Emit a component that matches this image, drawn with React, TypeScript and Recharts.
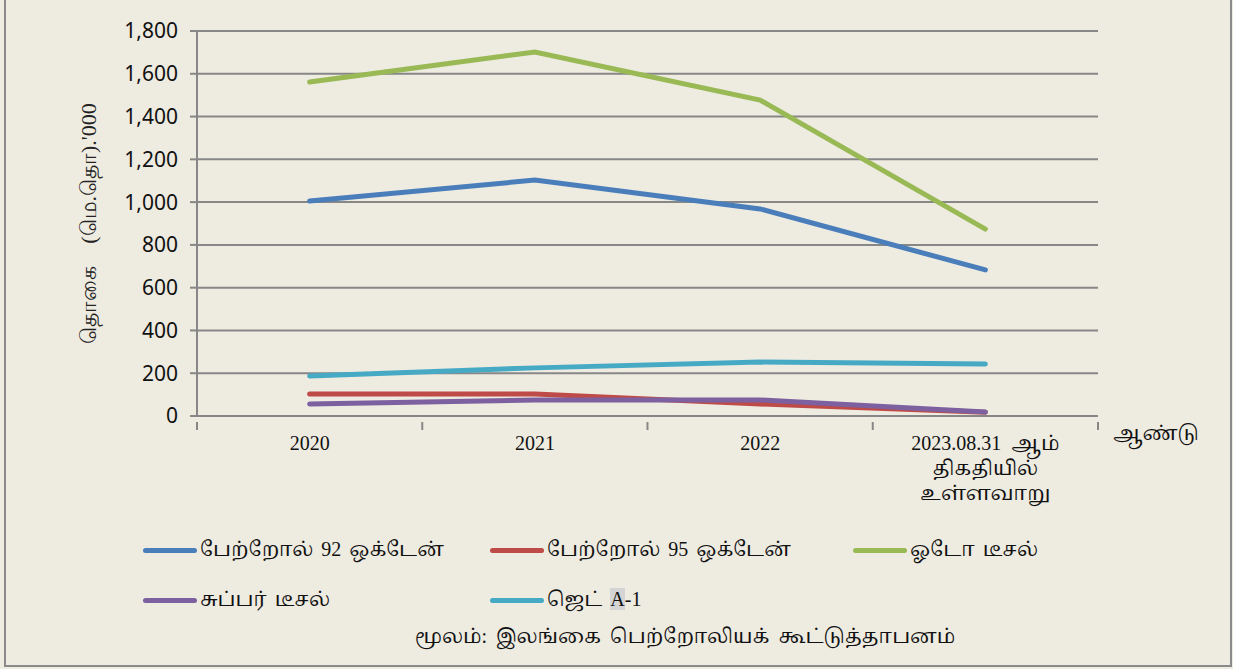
import { LineChart, Line, XAxis, YAxis, CartesianGrid, Label } from "recharts";

const years = ["2020", "2021", "2022", "2023.08.31"];
const petrol92 = [1005, 1103, 968, 683];
const petrol95 = [103, 103, 56, 18];
const autoDiesel = [1562, 1702, 1477, 874];
const superDiesel = [56, 75, 75, 19];
const jetA1 = [187, 225, 252, 243];
const yTicks = [0, 200, 400, 600, 800, 1000, 1200, 1400, 1600, 1800];

const series = [
  { key: "p92", name: "பேற்றோல் 92 ஒக்டேன்", color: "#4A7EBB", values: petrol92 },
  { key: "p95", name: "பேற்றோல் 95 ஒக்டேன்", color: "#BE4B48", values: petrol95 },
  { key: "auto", name: "ஓடோ டீசல்", color: "#98B954", values: autoDiesel },
  { key: "super", name: "சுப்பர் டீசல்", color: "#7D60A0", values: superDiesel },
  { key: "jet", name: "ஜெட் A-1", color: "#46AAC5", values: jetA1 },
];

const data = years.map((y, i) => {
  const row: Record<string, string | number> = { year: y };
  series.forEach((s) => (row[s.key] = s.values[i]));
  return row;
});

const serif = "'Liberation Serif', 'Noto Serif Tamil', 'Noto Sans Tamil', serif";
const gridColor = "#878787";

const XTick = (props: any) => {
  const { x, y, payload, index } = props;
  const off = payload.offset || 0;
  const last = index === years.length - 1;
  const lines = last ? ["2023.08.31  ஆம்", "திகதியில்", "உள்ளவாறு"] : [payload.value];
  return (
    <g>
      <line x1={x - off} x2={x - off} y1={y - 2} y2={y + 6} stroke={gridColor} strokeWidth={2} />
      {last && <line x1={x + off} x2={x + off} y1={y - 2} y2={y + 6} stroke={gridColor} strokeWidth={2} />}
      <text x={x} y={y + 26} textAnchor="middle" fontFamily={serif} fontSize={20} fill="#111" style={{ whiteSpace: "pre" }}>
        {lines.map((l: string, i: number) => (
          <tspan key={i} x={x} dy={i === 0 ? 0 : 25}>
            {l}
          </tspan>
        ))}
      </text>
    </g>
  );
};

const LegendBox = () => {
  const Item = ({ s }: { s: (typeof series)[number] }) => (
    <div style={{ display: "flex", alignItems: "center", height: 24 }}>
      <div style={{ width: 54, height: 5, borderRadius: 3, background: s.color, marginRight: 3 }} />
      <span style={{ wordSpacing: 3 }}>
        {s.key === "jet" ? (
          <>
            ஜெட் <span style={{ background: "#d4d4d4" }}>A</span>-1
          </>
        ) : (
          s.name
        )}
      </span>
    </div>
  );
  return (
    <div
      style={{
        position: "absolute",
        left: 0,
        top: 538,
        width: 1233,
        fontFamily: serif,
        fontSize: 20,
        color: "#111",
      }}
    >
      <div style={{ display: "grid", gridTemplateColumns: "347px 363px 300px", rowGap: 26, marginLeft: 143 }}>
        {series.map((s) => (
          <Item key={s.key} s={s} />
        ))}
      </div>
      <div style={{ marginLeft: 415, marginTop: 10, wordSpacing: 4 }}>
        மூலம்: இலங்கை பெற்றோலியக் கூட்டுத்தாபனம்
      </div>
    </div>
  );
};

export default function App() {
  return (
    <div
      style={{
        position: "absolute",
        left: 0,
        top: 0,
        width: 1233,
        height: 669,
        background: "#EEEBE1",
      }}
    >
      <div
        style={{
          position: "absolute",
          left: 4,
          top: -2,
          width: 1224,
          height: 665,
          border: "2px solid #8a8a8a",
        }}
      />
      <LineChart
        width={1233}
        height={669}
        data={data}
        margin={{ top: 31, right: 135, left: 67, bottom: 0 }}
        style={{ position: "absolute", left: 0, top: 0 }}
      >
        <CartesianGrid vertical={false} stroke={gridColor} strokeWidth={2} />
        <XAxis
          dataKey="year"
          scale="band"
          height={253}
          axisLine={{ stroke: gridColor, strokeWidth: 2 }}
          tickLine={false}
          tick={<XTick />}
          interval={0}
        >
          <Label
            content={({ viewBox }: any) => (
              <text x={viewBox.x + viewBox.width + 15} y={viewBox.y + 24} fontFamily={serif} fontSize={20} fill="#111">
                ஆண்டு
              </text>
            )}
          />
        </XAxis>
        <YAxis
          width={130}
          domain={[0, 1800]}
          ticks={yTicks}
          interval={0}
          tickFormatter={(v: number) => v.toLocaleString("en-US")}
          tick={{ fontFamily: "'Noto Sans', sans-serif", fontSize: 21, fill: "#111" }}
          tickSize={7}
          tickMargin={12}
          axisLine={{ stroke: gridColor, strokeWidth: 2 }}
          tickLine={{ stroke: gridColor, strokeWidth: 2 }}
        >
          <Label
            value={"தொகை\u00A0\u00A0\u00A0\u00A0(மெ.தொ).'000"}
            angle={-90}
            position="insideLeft"
            offset={21}
            style={{ textAnchor: "middle", fontSize: 22, fill: "#222" }}
          />
        </YAxis>
        {series.map((s) => (
          <Line
            key={s.key}
            dataKey={s.key}
            name={s.name}
            stroke={s.color}
            strokeWidth={5}
            strokeLinecap="round"
            dot={false}
            activeDot={false}
            isAnimationActive={false}
          />
        ))}
      </LineChart>
      <LegendBox />
    </div>
  );
}
